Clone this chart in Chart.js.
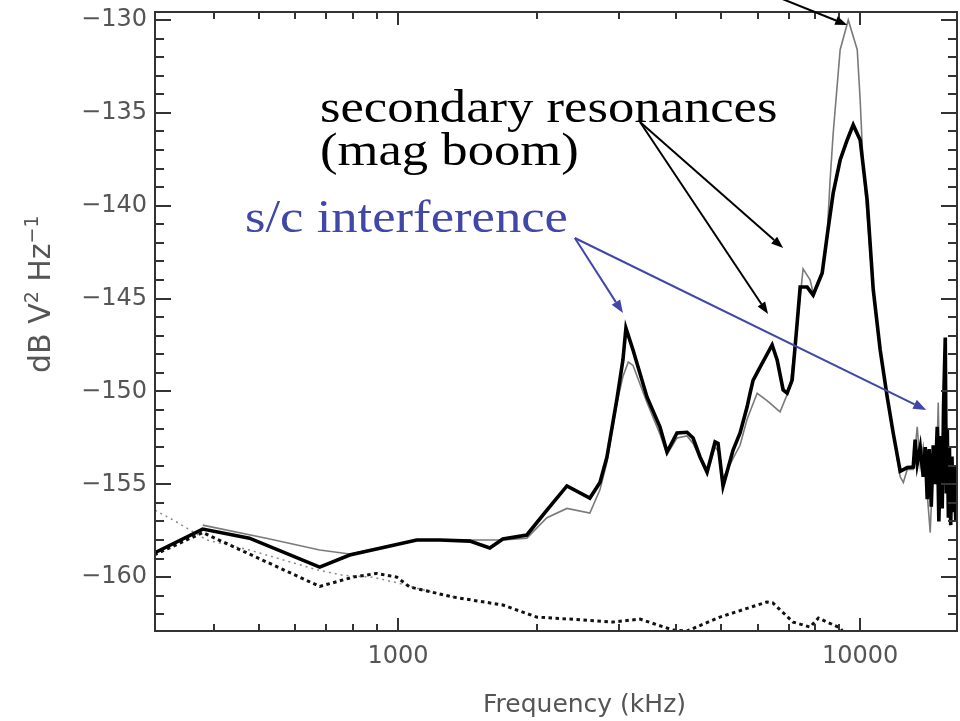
<!DOCTYPE html>
<html><head><meta charset="utf-8">
<script src="https://cdn.jsdelivr.net/npm/chart.js@4.4.0/dist/chart.umd.min.js"></script>
<style>html,body{margin:0;padding:0;background:#fff;overflow:hidden}canvas{display:block}</style>
</head><body>
<canvas id="c" width="960" height="721"></canvas>
<script>
// ---- data (frequency in kHz, power in dB V^2 Hz^-1) ----
const freqA = [297,378,477,677,786,1098,1231,1430,1580,1686,1900,2100,2320,2601,2735,2832,2977,3067,3113,3225,3457,3689,3820,4015,4221,4350,4503,4664,4853,4926,5050,5309,5497,5692,5777,5865,6074,6449,6613,6813,6950,7126,7305,7416,7679,7912,8276,8485,8742,9051,9374,9659,10000,10356,10671,11049,11442,11789,12207,12644,13025,13150,13287,13489,13692,13830,13966,14100,14250,14391,14530,14680,14800,14950,15050,15150,15280,15360,15435,15520,15600,15700,15800,15900,16000,16100,16200];
const dbA = [-158.70,-157.41,-157.9,-159.46,-158.81,-158.0,-158.0,-158.06,-158.43,-157.95,-157.73,-156.39,-155.09,-155.74,-154.9,-153.53,-150.4,-148.3,-146.59,-147.77,-150.30,-151.92,-153.26,-152.24,-152.2,-152.51,-153.53,-154.34,-152.72,-152.8,-155.1,-153.16,-152.24,-150.84,-150.1,-149.4,-148.69,-147.50,-148.31,-149.92,-150.09,-149.39,-146.32,-144.38,-144.38,-144.81,-143.62,-141.6,-139.32,-137.54,-136.46,-135.65,-136.46,-139.7,-144.5,-147.77,-150.30,-152.24,-154.3,-154.1,-154.07,-152.6,-153.9,-153.0,-154.6,-153.0,-155.8,-153.1,-156.2,-152.9,-155.0,-151.9,-157.0,-152.4,-156.3,-150.8,-147.1,-155.5,-152.0,-156.8,-153.0,-157.2,-153.5,-156.5,-154.0,-157.0,-155.0];

const freqB = [378,528,677,786,1098,1430,1686,1900,2100,2320,2601,2735,2832,2977,3067,3150,3225,3457,3689,3820,4015,4221,4350,4503,4664,4853,4926,5050,5309,5497,5692,5986,6287,6709,7048,7305,7525,7795,7912,8276,8485,8610,8742,9051,9424,9855,10000,10150,10356,10671,11049,11442,11789,12207,12400,12644,13025,13287,13489,13692,13966,14177,14391,14607,14754,14900,15050,15280,15500,15750,16000,16200];
const dbB = [-157.2,-157.95,-158.54,-158.75,-158.0,-158.0,-158.0,-157.9,-156.8,-156.3,-156.55,-155.3,-153.8,-150.6,-149.2,-148.42,-148.6,-150.6,-152.3,-153.4,-152.5,-152.4,-152.8,-153.6,-154.5,-153.0,-153.2,-154.7,-153.6,-152.9,-151.5,-150.1,-150.5,-151.1,-149.8,-146.5,-143.4,-144.0,-144.7,-143.6,-141.5,-138.6,-136.1,-131.6,-130.0,-131.6,-134.3,-137.9,-140.5,-144.6,-147.8,-150.3,-152.3,-154.6,-154.9,-154.2,-154.2,-151.9,-154.0,-153.0,-155.5,-157.6,-153.5,-155.0,-150.6,-156.0,-153.0,-155.0,-153.5,-156.0,-154.5,-155.5];

const freqC = [297,378,677,799,899,994,1060,1314,1686,1995,2354,2917,3339,3936,4221,4973,6281,6471,7160,7795,8121,9051,9600];
const dbC = [-158.8,-157.6,-160.5,-160.0,-159.8,-160.0,-160.53,-161.07,-161.5,-162.15,-162.26,-162.42,-162.26,-162.85,-162.9,-162.15,-161.34,-161.39,-162.42,-162.69,-162.2,-162.74,-163.6];

const freqD = [298,325,386,477,667,760,880,994,1098,1314];
const dbD = [-156.4,-156.9,-158.0,-158.54,-159.6,-159.9,-160.0,-160.3,-160.6,-161.07];

// ---- ticks ----
const xMajorTicks = [1000, 10000];
const xAllTicks = [300,400,500,600,700,800,900,1000,2000,3000,4000,5000,6000,7000,8000,9000,10000];
const yMajorTicks = [-160,-155,-150,-145,-140,-135,-130];
const yAllTicks = []; for (let v = -162; v <= -130; v++) yAllTicks.push(v);

// ---- annotations (data coordinates) ----
const blackArrows = [
  {from:[6709,-128.82], to:[9374,-130.27]},
  {from:[3339,-135.49], to:[6813,-142.28]},
  {from:[3339,-135.49], to:[6320,-145.83]}
];
const blueArrows = [
  {from:[2413,-141.74], to:[3067,-145.78]},
  {from:[2413,-141.74], to:[13900,-151.0]}
];

const pts = (xs, ys) => xs.map((x,i)=>({x, y: ys[i]}));
const BLUE = '#4146a9';

function arrow(ctx,x1,y1,x2,y2,color,w,hl,hw){
  const a = Math.atan2(y2-y1,x2-x1);
  const bx = x2-hl*Math.cos(a), by = y2-hl*Math.sin(a);
  ctx.strokeStyle=color; ctx.lineWidth=w;
  ctx.beginPath(); ctx.moveTo(x1,y1); ctx.lineTo(bx,by); ctx.stroke();
  ctx.fillStyle=color; ctx.beginPath(); ctx.moveTo(x2,y2);
  ctx.lineTo(bx+hw/2*Math.sin(a), by-hw/2*Math.cos(a));
  ctx.lineTo(bx-hw/2*Math.sin(a), by+hw/2*Math.cos(a));
  ctx.closePath(); ctx.fill();
}
function stretchText(ctx, t, x, y, sx){
  ctx.save(); ctx.translate(x,y); ctx.scale(sx,1); ctx.fillText(t,0,0); ctx.restore();
}

const decor = {
  id:'decor',
  afterDraw(chart){
    const {ctx, chartArea:a} = chart;
    const xs = chart.scales.x, ys = chart.scales.y;
    ctx.save();
    ctx.strokeStyle='#333'; ctx.lineWidth=2;
    ctx.beginPath();
    xAllTicks.forEach(v=>{
      const p = Math.round(xs.getPixelForValue(v));
      if (p <= a.left+1 || p >= a.right-1) return;
      const L = xMajorTicks.includes(v) ? 13 : 7;
      ctx.moveTo(p,a.bottom); ctx.lineTo(p,a.bottom-L);
      ctx.moveTo(p,a.top); ctx.lineTo(p,a.top+L);
    });
    yAllTicks.forEach(v=>{
      const p = Math.round(ys.getPixelForValue(v));
      if (p <= a.top+1 || p >= a.bottom-1) return;
      const L = yMajorTicks.includes(v) ? 16 : 9;
      ctx.moveTo(a.left,p); ctx.lineTo(a.left+L,p);
      ctx.moveTo(a.right,p); ctx.lineTo(a.right-L,p);
    });
    ctx.stroke();
    ctx.strokeRect(a.left,a.top,a.right-a.left,a.bottom-a.top);

    // axis titles
    ctx.fillStyle='#555'; ctx.textAlign='left'; ctx.textBaseline='alphabetic';
    ctx.font='25px "DejaVu Sans"';
    ctx.fillText('Frequency (kHz)', 483, 712);
    ctx.save();
    ctx.translate(50,373); ctx.rotate(-Math.PI/2);
    let cx=0;
    [['dB V',0,30],['2',-12,19],[' Hz',0,30],['\u22121',-12,19]].forEach(([t,dy,s])=>{
      ctx.font=s+'px "DejaVu Sans"'; ctx.fillText(t,cx,dy); cx+=ctx.measureText(t).width;
    });
    ctx.restore();

    // annotations
    const P = ([f,d]) => [xs.getPixelForValue(f), ys.getPixelForValue(d)];
    blackArrows.forEach(ar=>{ const [x1,y1]=P(ar.from),[x2,y2]=P(ar.to); arrow(ctx,x1,y1,x2,y2,'#000',2,12,9); });
    blueArrows.forEach(ar=>{ const [x1,y1]=P(ar.from),[x2,y2]=P(ar.to); arrow(ctx,x1,y1,x2,y2,BLUE,2,13,10); });
    ctx.font='47px "Liberation Serif"';
    ctx.fillStyle='#000';
    stretchText(ctx,'secondary resonances',320,122,1.12);
    stretchText(ctx,'(mag boom)',320,165,1.12);
    ctx.fillStyle=BLUE;
    stretchText(ctx,'s/c interference',245,232,1.12);
    ctx.restore();
  }
};

new Chart(document.getElementById('c'), {
  type:'line',
  data:{datasets:[
    {data:pts(freqA,dbA), borderColor:'#000', borderWidth:3.6, pointRadius:0, tension:0, fill:false},
    {data:pts(freqB,dbB), borderColor:'#7a7a7a', borderWidth:1.6, pointRadius:0, tension:0, fill:false},
    {data:pts(freqC,dbC), borderColor:'#111', borderWidth:3, borderDash:[3.5,3.5], pointRadius:0, tension:0, fill:false},
    {data:pts(freqD,dbD), borderColor:'#8a8a8a', borderWidth:1.5, borderDash:[2,4], pointRadius:0, tension:0, fill:false}
  ]},
  options:{
    responsive:false, animation:false, devicePixelRatio:1,
    layout:{padding:{top:12,right:3,left:0,bottom:0}},
    plugins:{legend:{display:false}, tooltip:{enabled:false}},
    scales:{
      x:{type:'logarithmic', min:298, max:16200,
        grid:{display:false, drawTicks:false}, border:{display:false},
        ticks:{autoSkip:false, maxRotation:0, padding:11, color:'#555', font:{family:'DejaVu Sans', size:24},
          callback:v=>String(v)},
        afterBuildTicks:s=>{ s.ticks = xMajorTicks.map(v=>({value:v})); },
        afterFit:s=>{ s.height = 90; s.paddingLeft = 0; s.paddingRight = 0; }
      },
      y:{type:'linear', min:-162.9, max:-129.57,
        grid:{display:false, drawTicks:false}, border:{display:false},
        ticks:{autoSkip:false, padding:8, color:'#555', font:{family:'DejaVu Sans', size:24},
          callback:v=>'\u2212'+Math.abs(v)},
        afterBuildTicks:s=>{ s.ticks = yMajorTicks.map(v=>({value:v})); },
        afterFit:s=>{ s.width = 155; s.paddingTop = 0; s.paddingBottom = 0; }
      }
    }
  },
  plugins:[decor]
});
</script>
</body></html>
